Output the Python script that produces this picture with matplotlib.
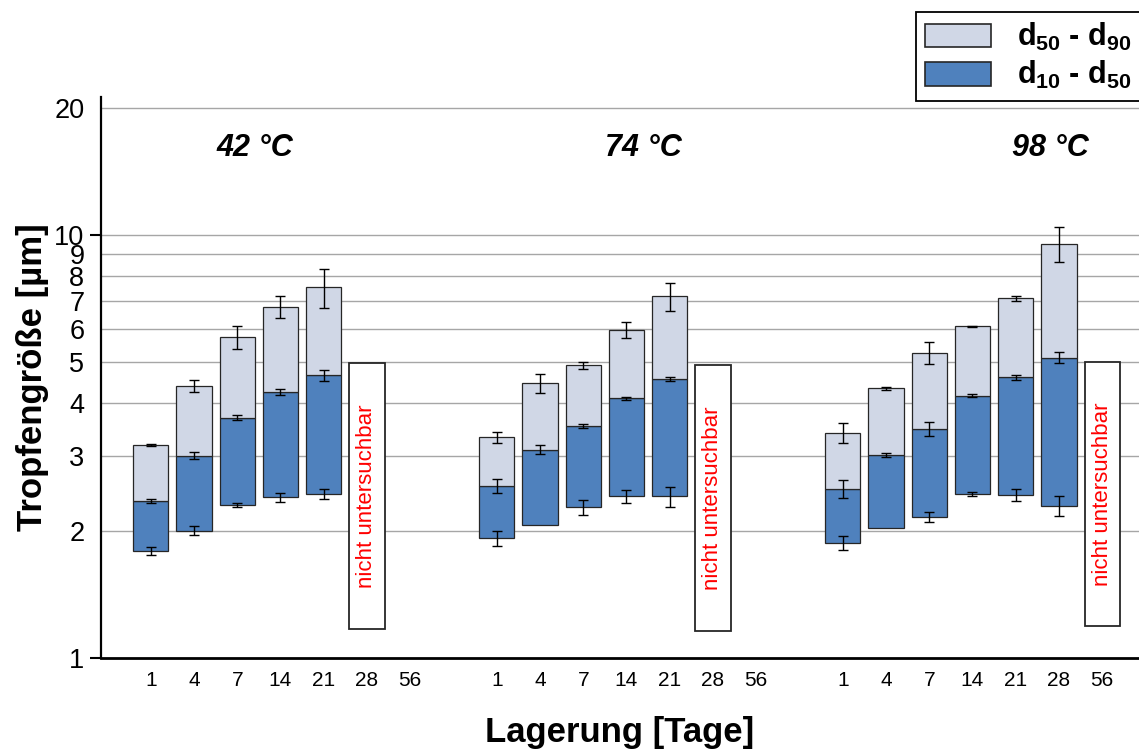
import numpy as np
import matplotlib
matplotlib.use("Agg")
import matplotlib.pyplot as plt
from matplotlib.patches import Patch
from matplotlib.ticker import FixedLocator, FixedFormatter

plt.rcParams['font.family'] = ['Liberation Sans', 'DejaVu Sans']
plt.rcParams['mathtext.fontset'] = 'custom'
plt.rcParams['mathtext.rm'] = 'Liberation Sans'
plt.rcParams['mathtext.bf'] = 'Liberation Sans:bold'

# storage days and temperatures
days = [1, 4, 7, 14, 21, 28, 56]
temps = ['42 °C', '74 °C', '98 °C']

# droplet size percentiles [µm] per temperature (NaN = not measured)
nan = np.nan
d10_42 = [1.79, 2.00, 2.30, 2.40, 2.44, nan, nan]
d50_42 = [2.35, 3.01, 3.70, 4.25, 4.66, nan, nan]
d90_42 = [3.19, 4.39, 5.74, 6.76, 7.52, nan, nan]
e10_42 = [0.04, 0.05, 0.02, 0.06, 0.07, nan, nan]
e50_42 = [0.02, 0.06, 0.05, 0.07, 0.14, nan, nan]
e90_42 = [0.02, 0.14, 0.35, 0.40, 0.80, nan, nan]

d10_74 = [1.92, 2.06, 2.27, 2.41, 2.41, nan, nan]
d50_74 = [2.55, 3.11, 3.53, 4.11, 4.57, nan, nan]
d90_74 = [3.33, 4.46, 4.92, 5.97, 7.17, nan, nan]
e10_74 = [0.08, nan, 0.09, 0.08, 0.13, nan, nan]
e50_74 = [0.10, 0.08, 0.04, 0.04, 0.05, nan, nan]
e90_74 = [0.10, 0.23, 0.10, 0.25, 0.55, nan, nan]

d10_98 = [1.87, 2.03, 2.16, 2.44, 2.43, 2.29, nan]
d50_98 = [2.51, 3.02, 3.48, 4.17, 4.61, 5.13, nan]
d90_98 = [3.41, 4.34, 5.27, 6.08, 7.09, 9.53, nan]
e10_98 = [0.07, nan, 0.06, 0.03, 0.08, 0.12, nan]
e50_98 = [0.12, 0.03, 0.13, 0.03, 0.06, 0.15, nan]
e90_98 = [0.19, 0.03, 0.32, 0.03, 0.10, 0.90, nan]

# samples that could not be examined: day index and box span
na_day_index = [5, 5, 6]
na_low = [1.17, 1.16, 1.19]
na_high = [4.98, 4.92, 5.02]
na_text = 'nicht untersuchbar'

groups = [
    (d10_42, d50_42, d90_42, e10_42, e50_42, e90_42),
    (d10_74, d50_74, d90_74, e10_74, e50_74, e90_74),
    (d10_98, d50_98, d90_98, e10_98, e50_98, e90_98),
]

light = '#D0D7E6'
dark = '#4F81BD'
edge = '#262626'
grid_c = '#A6A6A6'

fig = plt.figure(figsize=(11.39, 7.49), dpi=100)
ax = fig.add_axes([101 / 1139, 1 - 658 / 749, 1 - 101 / 1139, (658 - 97) / 749])

n = len(days)
gap = 1
width = 0.81
tick_pos = []
tick_lab = []
for g, (d10, d50, d90, e10, e50, e90) in enumerate(groups):
    start = g * (n + gap)
    x = np.arange(n) + start
    tick_pos.extend(x)
    tick_lab.extend([str(d) for d in days])
    d10 = np.array(d10); d50 = np.array(d50); d90 = np.array(d90)
    ax.bar(x, d50 - d10, bottom=d10, width=width, color=dark,
           edgecolor=edge, linewidth=0.9, zorder=3)
    ax.bar(x, d90 - d50, bottom=d50, width=width, color=light,
           edgecolor=edge, linewidth=0.9, zorder=3)
    for vals, err in ((d10, e10), (d50, e50), (d90, e90)):
        ax.errorbar(x, vals, yerr=np.array(err), fmt='none', ecolor='black',
                    elinewidth=1.0, capsize=3.3, capthick=1.0, zorder=4)
    # box for the sample that could not be examined
    xi = start + na_day_index[g]
    ax.bar(xi, na_high[g] - na_low[g], bottom=na_low[g], width=width,
           color='white', edgecolor=edge, linewidth=1.3, zorder=3)
    ymid = np.sqrt(na_low[g] * na_high[g])
    ax.text(xi, ymid, na_text, rotation=90, ha='center', va='center',
            color='#FF0000', fontsize=16, zorder=5)

# temperature labels
temp_x = [2.4, 11.4, 20.8]
for tx, t in zip(temp_x, temps):
    ax.text(tx, 16.1, t, ha='center', va='center', fontsize=22,
            fontweight='bold', fontstyle='italic')

ax.set_yscale('log')
ax.set_ylim(1, 21.2)
ax.set_xlim(-1.15, 22.85)

major = [1, 10]
minor = [2, 3, 4, 5, 6, 7, 8, 9, 20]
ax.yaxis.set_major_locator(FixedLocator(major))
ax.yaxis.set_major_formatter(FixedFormatter([str(v) for v in major]))
ax.yaxis.set_minor_locator(FixedLocator(minor))
ax.yaxis.set_minor_formatter(FixedFormatter([str(v) for v in minor]))
ax.tick_params(axis='y', which='major', length=8, width=1.5, pad=4,
               labelsize=19.5, direction='out')
ax.tick_params(axis='y', which='minor', length=0, pad=12, labelsize=19.5)

for v in major[1:] + minor:
    ax.axhline(v, color=grid_c, linewidth=1.0, zorder=1)

ax.set_xticks(tick_pos)
ax.set_xticklabels(tick_lab)
ax.tick_params(axis='x', length=0, pad=9, labelsize=15)

ax.spines['top'].set_visible(False)
ax.spines['right'].set_visible(False)
ax.spines['left'].set_linewidth(1.6)
ax.spines['bottom'].set_linewidth(2.0)

ax.set_ylabel('Tropfengröße [µm]', fontsize=25, fontweight='bold', labelpad=4)
ax.set_xlabel('Lagerung [Tage]', fontsize=25, fontweight='bold', labelpad=19)

handles = [Patch(facecolor=light, edgecolor=edge, linewidth=1.2),
           Patch(facecolor=dark, edgecolor=edge, linewidth=1.2)]
labels = [r'$\mathbf{d_{50}}$ - $\mathbf{d_{90}}$',
          r'$\mathbf{d_{10}}$ - $\mathbf{d_{50}}$']
leg = fig.legend(handles, labels, loc='upper left',
                 bbox_to_anchor=(916 / 1139, 1 - 12 / 749),
                 prop={'size': 22, 'weight': 'bold'}, frameon=True,
                 fancybox=False, framealpha=1, edgecolor='black',
                 handlelength=2.16, handleheight=0.82, handletextpad=0.85,
                 borderpad=0.3, labelspacing=0.2, borderaxespad=0)
leg.get_frame().set_linewidth(1.3)

fig.savefig('out.png', dpi=100)
